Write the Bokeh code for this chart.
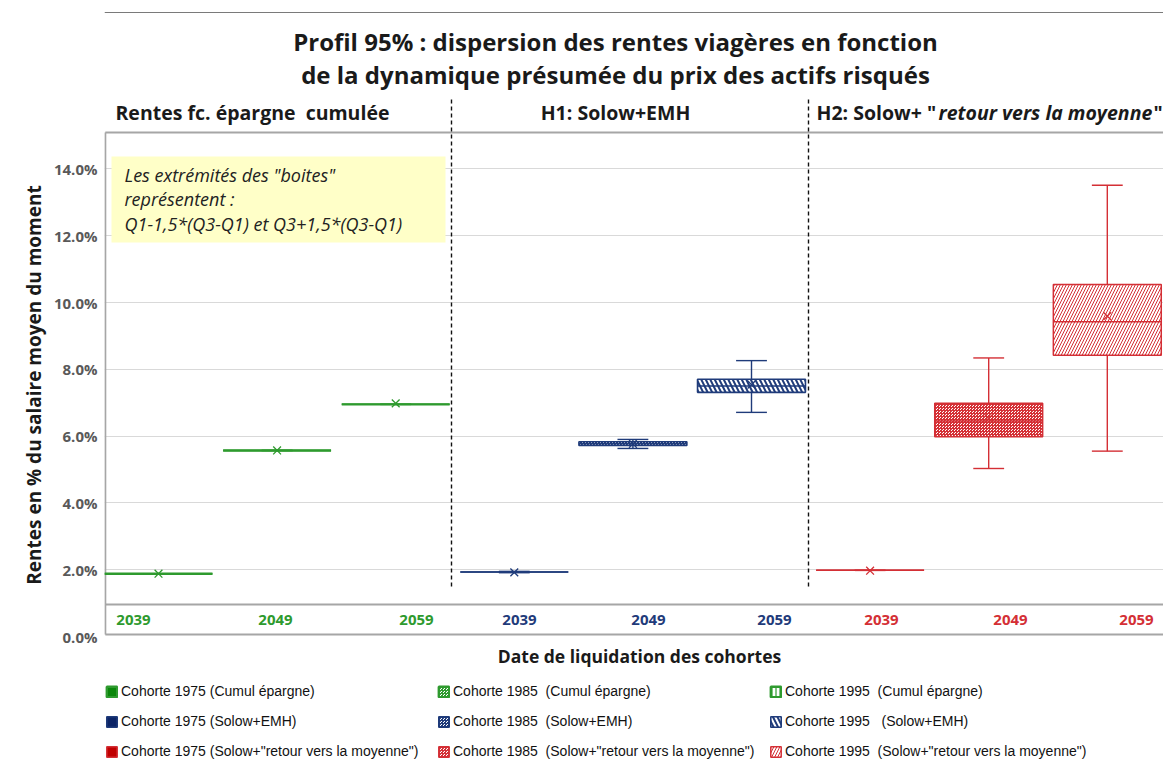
from bokeh.plotting import figure
from bokeh.models import Range1d, FixedTicker, PrintfTickFormatter, Legend, LegendItem
from bokeh.core.properties import value
from bokeh.embed import file_html
from bokeh.resources import INLINE

# ---------------- data ----------------
scenarios = ["Cumul épargne", "Solow+EMH", 'Solow+"retour vers la moyenne"']
cohorts = ["1975", "1985", "1995"]
years = ["2039", "2049", "2059"]

# one box per (scenario, cohort) -> 9 positions, values in % of average wage
whisker_low = [1.88, 5.57, 6.95, 1.91, 5.63, 6.71, 1.98, 5.03, 5.55]
q1 = [1.88, 5.57, 6.95, 1.93, 5.72, 7.31, 1.98, 5.98, 8.42]
median = [1.88, 5.57, 6.95, 1.93, 5.77, 7.50, 1.98, 6.45, 9.42]
q3 = [1.88, 5.57, 6.95, 1.93, 5.83, 7.70, 1.98, 6.98, 10.54]
whisker_high = [1.88, 5.57, 6.95, 1.95, 5.90, 8.26, 1.98, 8.34, 13.51]
mean = [1.88, 5.57, 6.98, 1.92, 5.77, 7.54, 1.97, 6.53, 9.59]

legend_labels = [
    "Cohorte 1975 (Cumul épargne)", "Cohorte 1985  (Cumul épargne)", "Cohorte 1995  (Cumul épargne)",
    "Cohorte 1975 (Solow+EMH)", "Cohorte 1985  (Solow+EMH)", "Cohorte 1995   (Solow+EMH)",
    'Cohorte 1975 (Solow+"retour vers la moyenne")', 'Cohorte 1985  (Solow+"retour vers la moyenne")',
    'Cohorte 1995  (Solow+"retour vers la moyenne")',
]
y_ticks = [0, 2, 4, 6, 8, 10, 12, 14]

# ---------------- styles ----------------
line_colors = ["#2e9a2e", "#1f3b7a", "#d42f35"]
solid_colors = ["#0a870a", "#0c2466", "#c00000"]
line_widths = [2.4, 1.6, 1.5]
hatch_1995 = ["vertical_line", "left_diagonal_line", "right_diagonal_line"]
hatch_1995_scale = [4, 9, 6]
hatch_1995_weight = [1.2, 2.0, 1.0]
FONT = "Open Sans"
INK = "#1a1a1a"

# pixel-placement helpers for decorations (reference layout, page pixels)
def px_x(px):
    return (px - 160.0) / 118.6

def px_y(py):
    return (637.0 - py) / 33.4

# canvas origin observed at page (2, 1)
CANVAS_X0, CANVAS_Y0 = 2, 1
W, H = 1163, 769

n = len(q1)
xs = list(range(n))
box_w = 0.91
cap_w = 0.26

p = figure(width=W, height=H,
           x_range=Range1d(px_x(106), px_x(CANVAS_X0 + W)),
           y_range=Range1d(px_y(CANVAS_Y0 + H), px_y(CANVAS_Y0)),
           x_axis_location=None,
           output_backend="svg", toolbar_location=None,
           min_border_left=106 - CANVAS_X0, min_border_right=0, min_border_top=0, min_border_bottom=0)
p.outline_line_color = None
p.xgrid.visible = False
p.ygrid.ticker = FixedTicker(ticks=[t for t in y_ticks if t > 0])
p.ygrid.grid_line_color = "#d9d9d9"
p.ygrid.grid_line_width = 1.2

ax = p.yaxis[0]
ax.ticker = FixedTicker(ticks=y_ticks)
ax.formatter = PrintfTickFormatter(format="%.1f%%")
ax.axis_line_color = None
ax.major_tick_line_color = None
ax.minor_tick_line_color = None
ax.major_tick_out = 0
ax.major_label_standoff = 7
ax.major_label_text_font = FONT
ax.major_label_text_font_style = "bold"
ax.major_label_text_font_size = "15px"
ax.major_label_text_color = "#595959"
ax.axis_label = "Rentes en % du salaire moyen du moment"
ax.axis_label_text_font = FONT
ax.axis_label_text_font_style = "bold"
ax.axis_label_text_font_size = "19px"
ax.axis_label_text_color = INK
ax.axis_label_standoff = 4

# ---------------- frame decorations ----------------
left_edge = px_x(106.8)
right_edge = 8.7
top_border = px_y(133)
band_bottom, band_top = px_y(635), px_y(605)
p.segment(x0=[left_edge], y0=[band_bottom], x1=[right_edge], y1=[band_bottom], line_color="#a6a6a6", line_width=2)
p.segment(x0=[left_edge], y0=[band_top], x1=[right_edge], y1=[band_top], line_color="#a6a6a6", line_width=2)
p.segment(x0=[left_edge], y0=[top_border], x1=[right_edge], y1=[top_border], line_color="#a6a6a6", line_width=2)
p.segment(x0=[left_edge], y0=[band_bottom], x1=[left_edge], y1=[top_border], line_color="#a6a6a6", line_width=2)
# outer chart border (top edge)
p.segment(x0=[px_x(106)], y0=[px_y(13)], x1=[right_edge], y1=[px_y(13)], line_color="#7a7a7a", line_width=1.2)

# separators between scenario groups
for sx in [px_x(453), px_x(810)]:
    p.segment(x0=[sx], y0=[px_y(587)], x1=[sx], y1=[px_y(100)], line_color="#111111",
              line_width=1.4, line_dash="4 3")

# annotation box
p.quad(left=[px_x(113)], right=[px_x(447)], bottom=[px_y(243)], top=[px_y(157)],
       fill_color="#ffffc8", line_color=None)
note_lines = ['Les extrémités des "boites"', "représentent :", "Q1-1,5*(Q3-Q1) et Q3+1,5*(Q3-Q1)"]
for t, py in zip(note_lines, [175, 199, 224]):
    p.text(x=[px_x(126)], y=[px_y(py)], text=[t], text_font=value(FONT), text_font_style="italic",
           text_font_size="18px", text_baseline="middle", text_align="left", text_color="#222222")

# titles
p.text(x=[px_x(617)], y=[px_y(42)], text=["Profil 95% : dispersion des rentes viagères en fonction"],
       text_font=value(FONT), text_font_style="bold", text_font_size="24px",
       text_align="center", text_baseline="middle", text_color=INK)
p.text(x=[px_x(617)], y=[px_y(75)], text=["de la dynamique présumée du prix des actifs risqués"],
       text_font=value(FONT), text_font_style="bold", text_font_size="24px",
       text_align="center", text_baseline="middle", text_color=INK)

# group headers
hy = px_y(113)
HS = "19.5px"
p.text(x=[px_x(117)], y=[hy], text=["Rentes fc. épargne\u00a0 cumulée"], text_font=value(FONT),
       text_font_style="bold", text_font_size=HS, text_baseline="middle", text_align="left",
       text_color=INK)
p.text(x=[px_x(617)], y=[hy], text=["H1: Solow+EMH"], text_font=value(FONT),
       text_font_style="bold", text_font_size=HS, text_baseline="middle", text_align="center",
       text_color=INK)
p.text(x=[px_x(818)], y=[hy], text=['H2: Solow+ "'], text_font=value(FONT),
       text_font_style="bold", text_font_size=HS, text_baseline="middle", text_align="left",
       text_color=INK)
p.text(x=[px_x(940)], y=[hy], text=["retour vers la moyenne"], text_font=value(FONT),
       text_font_style="bold italic", text_font_size=HS, text_baseline="middle", text_align="left",
       text_color=INK)
p.text(x=[px_x(1155)], y=[hy], text=['"'], text_font=value(FONT),
       text_font_style="bold", text_font_size=HS, text_baseline="middle", text_align="left",
       text_color=INK)

# category labels inside the band
label_px = [135, 277, 418, 521, 650, 776, 883, 1012, 1138]
for i in range(n):
    p.text(x=[px_x(label_px[i])], y=[px_y(620)], text=[years[i % 3]], text_font=value(FONT),
           text_font_style="bold", text_font_size="15px", text_align="center", text_baseline="middle",
           text_color=line_colors[i // 3])

p.text(x=[px_x(641)], y=[px_y(656)], text=["Date de liquidation des cohortes"], text_font=value(FONT),
       text_font_style="bold", text_font_size="17.5px", text_align="center", text_baseline="middle",
       text_color=INK)

# ---------------- boxes ----------------
items = []
for i in range(n):
    s, c = i // 3, i % 3
    lc = line_colors[s]
    kw = dict(line_color=lc, line_width=line_widths[s])
    if c == 0:
        kw.update(fill_color=solid_colors[s])
    elif c == 1:
        kw.update(fill_color="white", hatch_pattern="criss_cross", hatch_color=lc,
                  hatch_scale=3, hatch_weight=1.0)
    else:
        kw.update(fill_color="white", hatch_pattern=hatch_1995[s], hatch_color=lc,
                  hatch_scale=hatch_1995_scale[s], hatch_weight=hatch_1995_weight[s])
    r = p.vbar(x=[xs[i]], width=box_w, bottom=[q1[i]], top=[q3[i]], **kw)
    items.append(LegendItem(label=legend_labels[i], renderers=[r]))

colors9 = [line_colors[i // 3] for i in range(n)]
wl = 1.4
# median
p.segment(x0=[x - box_w / 2 for x in xs], y0=median, x1=[x + box_w / 2 for x in xs], y1=median,
          line_color=colors9, line_width=1.5)
# whiskers
p.segment(x0=xs, y0=q3, x1=xs, y1=whisker_high, line_color=colors9, line_width=wl)
p.segment(x0=xs, y0=q1, x1=xs, y1=whisker_low, line_color=colors9, line_width=wl)
p.segment(x0=[x - cap_w / 2 for x in xs], y0=whisker_high, x1=[x + cap_w / 2 for x in xs],
          y1=whisker_high, line_color=colors9, line_width=wl)
p.segment(x0=[x - cap_w / 2 for x in xs], y0=whisker_low, x1=[x + cap_w / 2 for x in xs],
          y1=whisker_low, line_color=colors9, line_width=wl)
# mean
p.scatter(x=xs, y=mean, marker="x", size=11, line_color=colors9, line_width=1.3)

legend = Legend(items=items, orientation="horizontal", ncols=3,
                location=(1, (CANVAS_Y0 + H) - 760),
                glyph_width=13, glyph_height=13, label_height=16, label_width=302,
                label_standoff=3, spacing=14, padding=0, margin=0,
                label_text_font="Liberation Sans", label_text_font_size="14px",
                label_text_color="#111111", label_text_baseline="middle",
                border_line_color=None, background_fill_alpha=0)
p.add_layout(legend)

open("out.html", "w").write(file_html(p, INLINE))
